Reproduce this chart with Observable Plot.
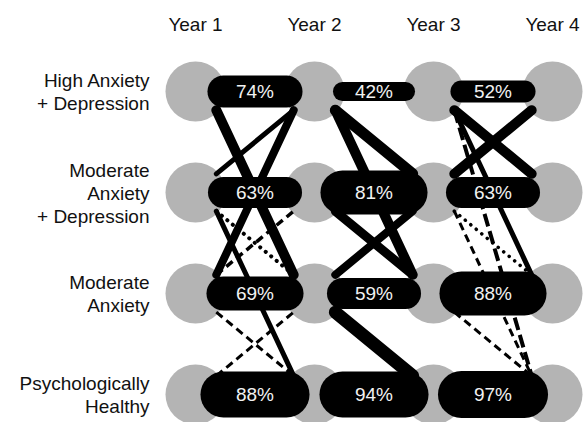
<!DOCTYPE html>
<html>
<head>
<meta charset="utf-8">
<script src="https://cdn.jsdelivr.net/npm/d3@7"></script>
<script src="https://cdn.jsdelivr.net/npm/@observablehq/plot@0.6"></script>
<style>
  html, body { margin: 0; padding: 0; background: white; }
  #chart svg { display: block; overflow: hidden; }
</style>
</head>
<body>
<div id="chart"></div>
<script>
// ---- data ----
const years = ["Year 1", "Year 2", "Year 3", "Year 4"];
const stateKeys = ["HAD", "MAD", "MA", "PH"];
const stateLabels = [
  "High Anxiety\n+ Depression",
  "Moderate\nAnxiety\n+ Depression",
  "Moderate\nAnxiety",
  "Psychologically\nHealthy"
];

// % staying in the same state (per state, top to bottom)
const stay12 = [74, 63, 69, 88];
const stay23 = [42, 81, 59, 94];
const stay34 = [52, 63, 88, 97];
// relative weight of each "stay" band
const stayWeight12 = [32, 31, 34, 46];
const stayWeight23 = [19, 44, 31, 46];
const stayWeight34 = [22, 31, 44, 47];

// transitions between states: [interval (0 = Y1->Y2), from, to, weight, line type]
const moves = [
  [0, "HAD", "MA", 10, "solid"],
  [0, "MA", "HAD", 8, "solid"],
  [0, "MAD", "HAD", 5, "solid"],
  [0, "MAD", "MA", 4, "dotted"],
  [0, "MA", "MAD", 3.5, "dashed"],
  [0, "MAD", "PH", 5, "solid"],
  [0, "MA", "PH", 3, "dashed"],
  [0, "PH", "MA", 3, "dashed"],
  [1, "HAD", "MAD", 11, "solid"],
  [1, "HAD", "MA", 10, "solid"],
  [1, "MAD", "MA", 9, "solid"],
  [1, "MA", "MAD", 8, "solid"],
  [1, "MA", "PH", 13, "solid"],
  [2, "HAD", "MAD", 10, "solid"],
  [2, "MAD", "HAD", 10, "solid"],
  [2, "HAD", "MA", 5, "solid"],
  [2, "HAD", "PH", 4, "longdash"],
  [2, "MAD", "MA", 3.5, "dotted"],
  [2, "MAD", "PH", 3, "dashed"],
  [2, "MA", "PH", 3, "dashed"]
];

// ---- build tables ----
const cells = [];
years.forEach((y, i) => stateKeys.forEach((s, j) => cells.push({year: i + 1, state: j})));

const stays = [];
[[stay12, stayWeight12], [stay23, stayWeight23], [stay34, stayWeight34]].forEach(([pcts, ws], k) => {
  pcts.forEach((p, j) => stays.push({interval: k, state: j, pct: p, weight: ws[j]}));
});

const links = moves.map(([k, f, t, w, kind]) => {
  const a = stateKeys.indexOf(f), b = stateKeys.indexOf(t);
  return {interval: k, from: a, to: b, weight: w, kind, sign: b > a ? 1 : -1};
});

const pillInset = 0.235;  // in year units
const lineDx = 0.175;     // in year units
const lineDy = 0.185;     // in state units
const font = "'Liberation Sans', Arial, Helvetica, sans-serif";

function linkMark(kind, extra) {
  return Plot.link(links.filter(d => d.kind === kind), {
    x1: d => d.interval + 1 + lineDx,
    x2: d => d.interval + 2 - lineDx,
    y1: d => d.from + lineDy * d.sign,
    y2: d => d.to - lineDy * d.sign,
    stroke: "black",
    strokeWidth: d => d.weight,
    ...extra
  });
}

const chart = Plot.plot({
  width: 585,
  height: 422,
  marginLeft: 195,
  marginRight: 33,
  marginTop: 91,
  marginBottom: 28,
  style: {fontFamily: font, fontSize: "19px", background: "white", overflow: "hidden"},
  x: {type: "linear", domain: [1, 4]},
  y: {type: "linear", domain: [0, 3], reverse: true},
  marks: [
    Plot.axisX({anchor: "top", ticks: [1, 2, 3, 4], tickFormat: i => years[i - 1],
      tickSize: 0, tickPadding: 61, fontSize: 19, label: null, fill: "#111"}),
    Plot.axisY({anchor: "left", ticks: [0, 1, 2, 3], tickFormat: i => stateLabels[i],
      tickSize: 0, tickPadding: 46, fontSize: 19, lineHeight: 1.2, label: null, fill: "#111"}),
    Plot.dot(cells, {x: "year", y: "state", r: 30, fill: "#b4b4b4"}),
    linkMark("solid", {strokeLinecap: "round"}),
    linkMark("dashed", {strokeDasharray: "8,5"}),
    linkMark("longdash", {strokeDasharray: "13,5"}),
    linkMark("dotted", {strokeDasharray: "0.1,7", strokeLinecap: "round"}),
    Plot.link(stays, {
      x1: d => d.interval + 1 + pillInset,
      x2: d => d.interval + 2 - pillInset,
      y1: "state", y2: "state",
      stroke: "black",
      strokeWidth: d => d.weight,
      strokeLinecap: "round"
    }),
    Plot.text(stays, {
      x: d => d.interval + 1.5, y: "state",
      text: d => d.pct + "%",
      fill: "#f2f2f2", fontSize: 19
    })
  ]
});
document.getElementById("chart").appendChild(chart);
</script>
</body>
</html>
